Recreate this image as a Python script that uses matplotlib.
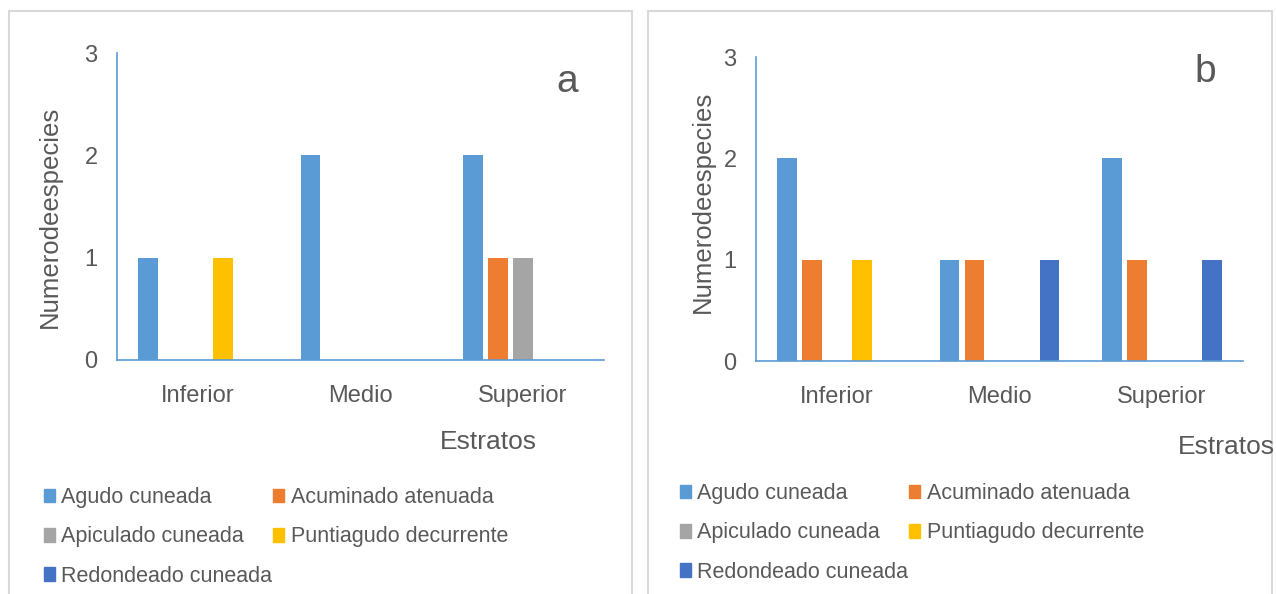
import matplotlib.pyplot as plt
from matplotlib.patches import Rectangle, Patch
import numpy as np

plt.rcParams['font.family'] = ['Liberation Sans', 'DejaVu Sans']

estratos = ["Inferior", "Medio", "Superior"]
series = ["Agudo cuneada", "Acuminado atenuada", "Apiculado cuneada",
          "Puntiagudo decurrente", "Redondeado cuneada"]
colors = ["#5b9bd5", "#ed7d31", "#a5a5a5", "#ffc000", "#4472c4"]

# numero de especies por estrato (panel a y b)
agudo_a = [1, 2, 2]
acuminado_a = [0, 0, 1]
apiculado_a = [0, 0, 1]
puntiagudo_a = [1, 0, 0]
redondeado_a = [0, 0, 0]

agudo_b = [2, 1, 2]
acuminado_b = [1, 1, 1]
apiculado_b = [0, 0, 0]
puntiagudo_b = [1, 0, 0]
redondeado_b = [0, 1, 1]

data_a = [agudo_a, acuminado_a, apiculado_a, puntiagudo_a, redondeado_a]
data_b = [agudo_b, acuminado_b, apiculado_b, puntiagudo_b, redondeado_b]

TXT = "#595959"
W, H = 1276, 594


def draw_panel(fig, rect, data, letter, letter_xy, ylab_xy, est_xy):
    ax = fig.add_axes(rect)
    x = np.arange(len(estratos))
    step = 0.154
    for i, vals in enumerate(data):
        ax.bar(x + (i - 2) * step, vals, width=0.123, color=colors[i], zorder=1)
    ax.set_xlim(-0.5, 2.5)
    ax.set_ylim(0, 3)
    ax.set_yticks([0, 1, 2, 3])
    ax.set_xticks(x)
    ax.set_xticklabels(estratos)
    ax.tick_params(axis="both", length=0, labelsize=17, colors=TXT)
    ax.tick_params(axis="y", pad=14)
    ax.tick_params(axis="x", pad=18)
    for s in ["top", "right"]:
        ax.spines[s].set_visible(False)
    for s in ["left", "bottom"]:
        ax.spines[s].set_color("#5b9bd5")
        ax.spines[s].set_linewidth(1.2)
        ax.spines[s].set_zorder(3)
    fig.text(letter_xy[0] / W, 1 - letter_xy[1] / H, letter, fontsize=28,
             color=TXT, ha="center", va="center")
    fig.text(ylab_xy[0] / W, 1 - ylab_xy[1] / H, "Numerodeespecies", fontsize=18.5,
             color=TXT, ha="center", va="center", rotation=90)
    fig.text(est_xy[0] / W, 1 - est_xy[1] / H, "Estratos", fontsize=19,
             color=TXT, ha="center", va="center")
    return ax


def draw_legend(fig, x0, y0):
    order = [0, 2, 4, 1, 3]
    handles = [Patch(color=colors[i]) for i in order]
    labels = [series[i] for i in order]
    fig.legend(handles, labels, ncol=2, loc="upper left",
               bbox_to_anchor=(x0 / W, 1 - y0 / H), frameon=False,
               fontsize=15.5, labelcolor=TXT, handlelength=0.5, handleheight=0.6,
               handletextpad=0.3, columnspacing=0.05, labelspacing=0.85,
               borderaxespad=0, borderpad=0)


fig = plt.figure(figsize=(W / 100, H / 100), dpi=100)

# panel borders
fig.add_artist(Rectangle((9 / W, -0.02), 623 / W, 1 - 11 / H + 0.02,
                         transform=fig.transFigure, fill=False,
                         edgecolor="#d9d9d9", linewidth=1.5))
fig.add_artist(Rectangle((648 / W, -0.02), 624 / W, 1 - 11 / H + 0.02,
                         transform=fig.transFigure, fill=False,
                         edgecolor="#d9d9d9", linewidth=1.5))

draw_panel(fig, [117 / W, 234 / H, 487 / W, 307 / H], data_a, "a",
           (567, 82), (50, 217), (488, 442))
draw_panel(fig, [756 / W, 233 / H, 487 / W, 304 / H], data_b, "b",
           (1205, 72), (703, 202), (1226, 447))

draw_legend(fig, 44, 487)
draw_legend(fig, 680, 483)

fig.savefig("out.png", dpi=100)
